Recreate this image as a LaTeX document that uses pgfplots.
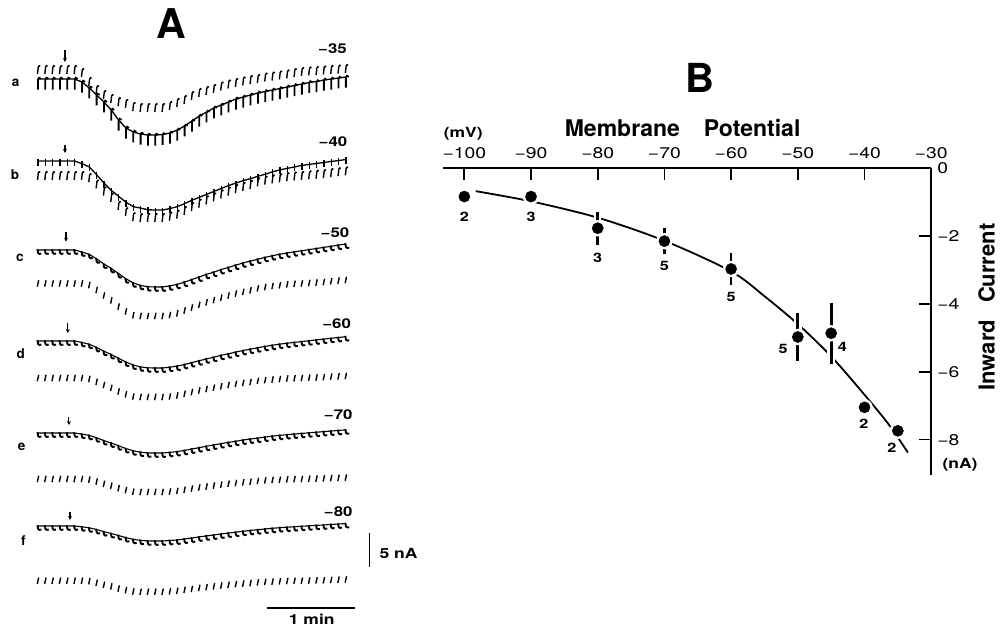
\documentclass[border=0pt]{standalone}
\usepackage{fontspec}
\setmainfont{TeX Gyre Heros}
\usepackage{graphicx}
\usepackage{pgfplots}
\usepackage{pgfplotstable}
\pgfplotsset{compat=1.18}
\usetikzlibrary{arrows.meta}
\newcommand{\wx}[1]{\scalebox{1.25}[1.0]{#1}}

\pgfdeclareplotmark{hookc}{%
  \pgfpathmoveto{\pgfqpoint{-0.6pt}{0.8pt}}%
  \pgfpathcurveto{\pgfqpoint{-0.6pt}{-2pt}}{\pgfqpoint{0pt}{-5pt}}{\pgfqpoint{3.4pt}{-3.6pt}}%
  \pgfusepathqstroke}
\pgfdeclareplotmark{bigr}{%
  \pgfpathmoveto{\pgfqpoint{3pt}{0.2pt}}%
  \pgfpathcurveto{\pgfqpoint{2pt}{1.8pt}}{\pgfqpoint{0pt}{1.6pt}}{\pgfqpoint{0pt}{-0.5pt}}%
  \pgfpathlineto{\pgfqpoint{0pt}{-10.5pt}}%
  \pgfusepathqstroke}
\pgfdeclareplotmark{vbar}{%
  \pgfpathmoveto{\pgfqpoint{0pt}{2.5pt}}\pgfpathlineto{\pgfqpoint{0pt}{-4.5pt}}\pgfusepathqstroke}
\pgfdeclareplotmark{slant}{%
  \pgfpathmoveto{\pgfqpoint{-0.7pt}{-3.2pt}}\pgfpathlineto{\pgfqpoint{0.7pt}{3.2pt}}\pgfusepathqstroke}
\pgfdeclareplotmark{slantr}{%
  \pgfpathmoveto{\pgfqpoint{-0.5pt}{-4pt}}\pgfpathlineto{\pgfqpoint{0.3pt}{3pt}}%
  \pgfpathcurveto{\pgfqpoint{0.6pt}{4.5pt}}{\pgfqpoint{1.8pt}{4.5pt}}{\pgfqpoint{2.2pt}{3.6pt}}%
  \pgfusepathqstroke}

% time (s) and current (nA, relative to each trace's start level)
\pgfplotstableread{
t a1 a2 b1 b2 c1 c2 d1 d2 e1 e2 f1 f2
0 0 0 0 0 0 0 0 0 0 0 0 0
5 0 0 0 0 0 0 0 0 0 0 0 0
10 0 0 0 0 0 0 0 0 0 0 0 0
15 0 0 0 0 0 0 0 0 0 0 0 0
20 0 0 0 0 0 0 0 0 0 0 0 0
25 0 0 0 0 0 0 0 0 0 0 0 0
30 -0.44 -0.44 -0.39 0 -0.29 0 -0.21 0 -0.16 0 -0.12 0
35 -1.32 -1.76 -0.87 -0.31 -0.65 -0.24 -0.48 -0.14 -0.35 -0.10 -0.27 -0.08
40 -2.35 -2.94 -2.02 -1.24 -1.31 -0.96 -0.95 -0.56 -0.71 -0.38 -0.53 -0.32
45 -3.38 -3.68 -3.24 -2.29 -2.07 -1.77 -1.51 -1.03 -1.12 -0.71 -0.84 -0.60
50 -4.56 -4.26 -4.33 -3.21 -2.72 -2.49 -1.99 -1.45 -1.47 -0.99 -1.11 -0.84
55 -6.03 -4.71 -5.19 -4.39 -3.48 -3.39 -2.54 -1.98 -1.88 -1.36 -1.41 -1.15
60 -7.21 -5.00 -6.06 -5.31 -4.24 -4.11 -3.10 -2.40 -2.29 -1.64 -1.72 -1.39
65 -7.79 -5.44 -6.71 -6.06 -4.84 -4.68 -3.53 -2.73 -2.62 -1.87 -1.97 -1.59
70 -8.09 -5.59 -6.92 -6.18 -5.22 -4.78 -3.81 -2.79 -2.82 -1.91 -2.12 -1.62
75 -8.24 -5.59 -7.17 -6.18 -5.41 -4.78 -3.95 -2.79 -2.93 -1.91 -2.20 -1.62
80 -8.24 -5.59 -7.21 -6.18 -5.44 -4.78 -3.97 -2.79 -2.94 -1.91 -2.21 -1.62
85 -8.16 -5.59 -7.21 -6.18 -5.44 -4.78 -3.97 -2.79 -2.94 -1.91 -2.21 -1.62
90 -7.94 -5.29 -6.99 -5.99 -5.28 -4.64 -3.85 -2.71 -2.85 -1.85 -2.14 -1.57
95 -7.50 -4.85 -6.71 -5.69 -5.06 -4.40 -3.69 -2.57 -2.73 -1.76 -2.06 -1.49
100 -6.91 -4.41 -6.27 -5.13 -4.73 -3.97 -3.45 -2.32 -2.56 -1.59 -1.92 -1.34
105 -6.18 -3.82 -5.77 -4.57 -4.35 -3.54 -3.18 -2.06 -2.35 -1.41 -1.77 -1.20
110 -5.44 -3.38 -5.34 -4.08 -3.97 -3.15 -2.90 -1.84 -2.15 -1.26 -1.61 -1.07
115 -4.85 -3.09 -4.90 -3.58 -3.59 -2.77 -2.62 -1.62 -1.94 -1.11 -1.46 -0.94
120 -4.26 -2.79 -4.47 -3.15 -3.26 -2.44 -2.38 -1.42 -1.76 -0.97 -1.33 -0.83
125 -3.82 -2.43 -4.04 -2.72 -2.88 -2.10 -2.10 -1.23 -1.56 -0.84 -1.17 -0.71
130 -3.38 -2.13 -3.61 -2.29 -2.56 -1.77 -1.87 -1.03 -1.38 -0.71 -1.04 -0.60
135 -2.94 -1.91 -3.24 -1.92 -2.23 -1.48 -1.63 -0.86 -1.21 -0.59 -0.91 -0.50
140 -2.65 -1.69 -2.88 -1.61 -1.90 -1.24 -1.39 -0.73 -1.03 -0.50 -0.77 -0.42
145 -2.35 -1.47 -2.60 -1.30 -1.63 -1.00 -1.19 -0.59 -0.88 -0.40 -0.66 -0.34
150 -2.06 -1.32 -2.24 -0.93 -1.36 -0.72 -0.99 -0.42 -0.74 -0.29 -0.55 -0.24
155 -1.84 -1.10 -1.95 -0.68 -1.09 -0.53 -0.79 -0.31 -0.59 -0.21 -0.44 -0.18
160 -1.62 -0.96 -1.59 -0.49 -0.84 -0.38 -0.62 -0.22 -0.46 -0.15 -0.34 -0.13
165 -1.40 -0.81 -1.30 -0.34 -0.63 -0.26 -0.46 -0.15 -0.34 -0.11 -0.25 -0.09
170 -1.18 -0.66 -1.08 -0.19 -0.44 -0.14 -0.32 -0.08 -0.24 -0.06 -0.18 -0.05
175 -0.96 -0.44 -0.87 -0.06 -0.27 -0.05 -0.20 -0.03 -0.15 -0.02 -0.11 -0.02
180 -0.74 -0.29 -0.65 0 -0.11 0 -0.08 0 -0.06 0 -0.04 0
185 -0.51 -0.22 -0.50 0.09 0.05 0.07 0.04 0.04 0.03 0.03 0.02 0.02
190 -0.37 -0.15 -0.36 0.19 0.22 0.14 0.16 0.08 0.12 0.06 0.09 0.05
195 -0.15 -0.07 -0.22 0.28 0.38 0.22 0.28 0.13 0.21 0.09 0.15 0.07
200 0 0 -0.07 0.43 0.54 0.33 0.40 0.20 0.29 0.13 0.22 0.11
205 0.15 0.07 0.07 0.56 0.71 0.43 0.52 0.25 0.38 0.17 0.29 0.15
210 0.29 0.15 0.22 0.68 0.87 0.53 0.64 0.31 0.47 0.21 0.35 0.18
}\traces

\begin{document}
\begin{tikzpicture}
\useasboundingbox (0,0) rectangle (1002pt,628pt);

% ---------------- Panel A ----------------
\begin{axis}[at={(0pt,0pt)}, anchor=south west, scale only axis,
  width=400pt, height=628pt,
  xmin=-25.92, xmax=246.93, ymin=-92.353, ymax=0,
  axis lines=none, clip=false]
\addplot[black, line width=1.3pt, mark=bigr, mark options={line width=1.8pt}]
  table[x=t, y expr=\thisrow{a1}-11.62]{\traces};
\addplot[black, only marks, mark=slantr, mark options={line width=1.4pt}]
  table[x=t, y expr=\thisrow{a2}-10.29]{\traces};
\addplot[black, line width=1.3pt, mark=vbar, mark options={line width=1.4pt}]
  table[x=t, y expr=\thisrow{b1}-23.68]{\traces};
\addplot[black, only marks, mark=slantr, mark options={line width=1.4pt}]
  table[x=t, y expr=\thisrow{b2}-25.88]{\traces};
\addplot[black, line width=1.1pt, mark=hookc, mark options={line width=1.9pt}]
  table[x=t, y expr=\thisrow{c1}-36.76]{\traces};
\addplot[black, only marks, mark=slant, mark options={line width=1.4pt}]
  table[x=t, y expr=\thisrow{c2}-41.69]{\traces};
\addplot[black, line width=1.1pt, mark=hookc, mark options={line width=1.9pt}]
  table[x=t, y expr=\thisrow{d1}-50.15]{\traces};
\addplot[black, only marks, mark=slant, mark options={line width=1.4pt}]
  table[x=t, y expr=\thisrow{d2}-55.59]{\traces};
\addplot[black, line width=1.1pt, mark=hookc, mark options={line width=1.9pt}]
  table[x=t, y expr=\thisrow{e1}-63.68]{\traces};
\addplot[black, only marks, mark=slant, mark options={line width=1.4pt}]
  table[x=t, y expr=\thisrow{e2}-70.44]{\traces};
\addplot[black, line width=1.1pt, mark=hookc, mark options={line width=1.9pt}]
  table[x=t, y expr=\thisrow{f1}-77.35]{\traces};
\addplot[black, only marks, mark=slant, mark options={line width=1.4pt}]
  table[x=t, y expr=\thisrow{f2}-85.40]{\traces};

% stimulus arrows
\draw[line width=1.1pt, -{Stealth[length=4pt,width=4pt]}] (axis cs:18.4,-7.35) -- (axis cs:18.4,-9.12);
\draw[line width=1.1pt, -{Stealth[length=4pt,width=4pt]}] (axis cs:18.4,-21.32) -- (axis cs:18.4,-22.5);
\draw[line width=1.1pt, -{Stealth[length=4pt,width=4pt]}] (axis cs:19.1,-34.12) -- (axis cs:19.1,-35.54);
\draw[line width=1.1pt, -{Stealth[length=4pt,width=4pt]}] (axis cs:20.3,-47.5) -- (axis cs:20.3,-48.97);
\draw[line width=1.1pt, -{Stealth[length=4pt,width=4pt]}] (axis cs:21.1,-61.28) -- (axis cs:21.1,-62.5);
\draw[line width=1.1pt, -{Stealth[length=4pt,width=4pt]}] (axis cs:21.8,-75.25) -- (axis cs:21.8,-76.47);
% scale bars: 5 nA and 1 min
\draw[line width=1.5pt] (axis cs:226.1,-78.4) -- (axis cs:226.1,-83.4);
\draw[line width=1.7pt] (axis cs:156,-89.46) -- (axis cs:216,-89.46);
\end{axis}

\node[font=\fontsize{41}{42}\selectfont\bfseries] at (171pt,604pt) {A};
\begin{scope}[every node/.style={font=\fontsize{13.5}{15}\selectfont\bfseries}]
\node at (15.7pt,544.7pt) {a};
\node at (15pt,453pt) {b};
\node at (20pt,369.7pt) {c};
\node at (20.7pt,274.7pt) {d};
\node at (21.7pt,181.3pt) {e};
\node at (23.3pt,87.3pt) {f};
\end{scope}
\begin{scope}[every node/.style={font=\fontsize{13.5}{15}\selectfont\bfseries}]
\node at (332.5pt,579.3pt) {\wx{−35}};
\node at (333pt,486.3pt) {\wx{−40}};
\node at (335pt,395.7pt) {\wx{−50}};
\node at (336.7pt,304.7pt) {\wx{−60}};
\node at (338.3pt,213pt) {\wx{−70}};
\node at (338.3pt,116.3pt) {\wx{−80}};
\end{scope}
\node[font=\fontsize{14}{15}\selectfont\bfseries, anchor=west] at (376pt,75pt) {\wx{5 nA}};
\node[font=\fontsize{14}{15}\selectfont\bfseries] at (311.7pt,8.7pt) {\wx{1 min}};

% ---------------- Panel B ----------------
\begin{axis}[at={(931.2pt,460.3pt)}, anchor=north east, scale only axis,
  width=488.2pt, height=307.3pt,
  xmin=-103.2, xmax=-30, ymin=-9.04, ymax=0,
  axis x line=top, axis y line=right,
  x axis line style={-}, y axis line style={-},
  axis line style={line width=1.9pt},
  xtick={-100,-90,-80,-70,-60,-50,-40,-30},
  xticklabels={\wx{−100},\wx{−90},\wx{−80},\wx{−70},\wx{−60},\wx{−50},\wx{−40},\wx{−30}},
  ytick={-8,-6,-4,-2,0},
  yticklabels={\wx{−8},\wx{−6},\wx{−4},\wx{−2},\wx{0}},
  tick align=inside, major tick length=12pt,
  tick style={line width=1.7pt, black},
  xticklabel style={font=\fontsize{15.5}{18}\selectfont, inner sep=0pt, yshift=8.5pt},
  yticklabel style={font=\fontsize{15.5}{18}\selectfont, inner sep=0pt, xshift=6pt},
  clip=false]
% fitted curve
\addplot[black, line width=1.8pt, smooth] coordinates {
  (-98.3,-0.69) (-90,-0.99) (-80,-1.47) (-70,-2.15) (-60,-3.05) (-55,-3.78)
  (-50,-4.60) (-45,-5.55) (-40,-6.68) (-36.3,-7.57) (-33.5,-8.38)};
% white halos producing gaps in the curve
\addplot[white, only marks, mark=*, mark size=8pt, mark options={fill=white, draw=white},
  error bars/.cd, y dir=both, y explicit, error mark=none,
  error bar style={white, line width=7.5pt}] coordinates {
  (-100,-0.85) +- (0,0)
  (-90,-0.85) +- (0,0)
  (-80,-1.78) +- (0,0.49)
  (-70,-2.16) +- (0,0.38)
  (-60,-2.98) +- (0,0.48)
  (-50,-4.98) +- (0,0.72)
  (-45,-4.87) +- (0,0.90)
  (-40,-7.05) +- (0,0)
  (-35,-7.74) +- (0,0)};
% mean values with error bars
\addplot[black, only marks, mark=*, mark size=5.6pt,
  error bars/.cd, y dir=both, y explicit, error mark=none,
  error bar style={black, line width=2.7pt}] coordinates {
  (-100,-0.85) +- (0,0)
  (-90,-0.85) +- (0,0)
  (-80,-1.78) +- (0,0.49)
  (-70,-2.16) +- (0,0.38)
  (-60,-2.98) +- (0,0.48)
  (-50,-4.98) +- (0,0.72)
  (-45,-4.87) +- (0,0.90)
  (-40,-7.05) +- (0,0)
  (-35,-7.74) +- (0,0)};
\node[font=\fontsize{13}{14}\selectfont\bfseries] at (axis cs:-100,-1.44) {\wx{2}};
\node[font=\fontsize{13}{14}\selectfont\bfseries] at (axis cs:-90,-1.44) {\wx{3}};
\node[font=\fontsize{13}{14}\selectfont\bfseries] at (axis cs:-80,-2.64) {\wx{3}};
\node[font=\fontsize{13}{14}\selectfont\bfseries] at (axis cs:-70,-2.89) {\wx{5}};
\node[font=\fontsize{13}{14}\selectfont\bfseries] at (axis cs:-60,-3.79) {\wx{5}};
\node[font=\fontsize{13}{14}\selectfont\bfseries] at (axis cs:-52.2,-5.34) {\wx{5}};
\node[font=\fontsize{13}{14}\selectfont\bfseries] at (axis cs:-43.3,-5.26) {\wx{4}};
\node[font=\fontsize{13}{14}\selectfont\bfseries] at (axis cs:-40.1,-7.54) {\wx{2}};
\node[font=\fontsize{13}{14}\selectfont\bfseries] at (axis cs:-35.9,-8.25) {\wx{2}};
\end{axis}

\node[font=\fontsize{40}{41}\selectfont\bfseries] at (699.5pt,549.7pt) {B};
\node[font=\fontsize{23}{25}\selectfont\bfseries] at (682.6pt,499.7pt) {Membrane\hspace{24pt}Potential};
\node[font=\fontsize{14}{15}\selectfont\bfseries] at (463.3pt,494pt) {\wx{(mV)}};
\node[font=\fontsize{14}{15}\selectfont\bfseries, anchor=west] at (939pt,163pt) {\wx{(nA)}};
\node[font=\fontsize{22}{24}\selectfont\bfseries, rotate=90] at (986.7pt,321pt) {Inward\hspace{17pt}Current};
\end{tikzpicture}
\end{document}
